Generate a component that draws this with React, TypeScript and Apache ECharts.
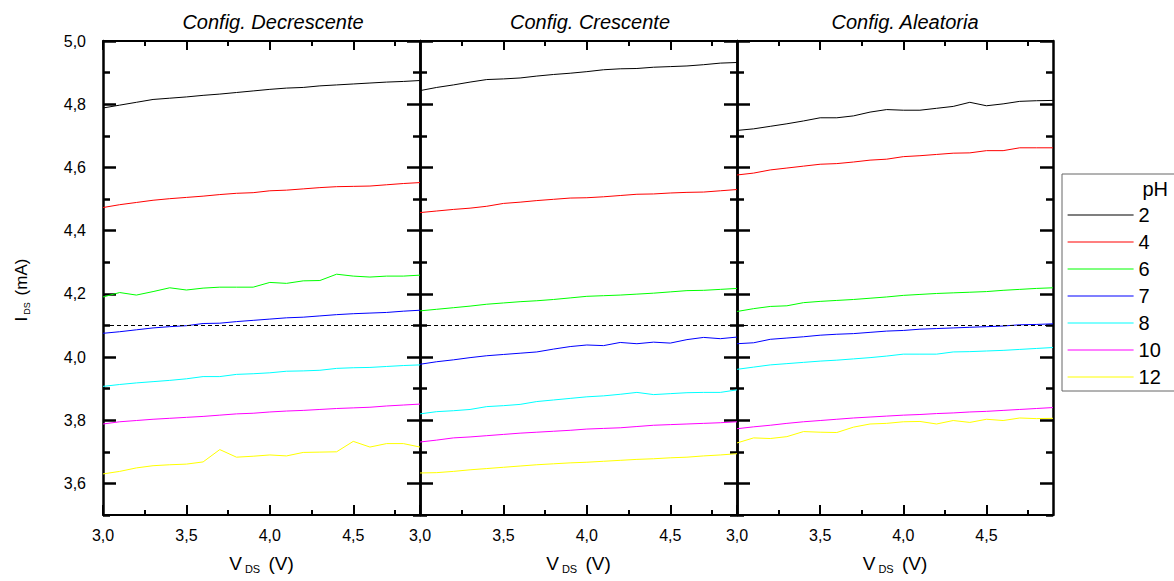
import React, { useEffect, useRef } from 'react';
import * as echarts from 'echarts';

const xValues = [3.0, 3.1, 3.2, 3.3, 3.4, 3.5, 3.6, 3.7, 3.8, 3.9, 4.0, 4.1, 4.2, 4.3, 4.4, 4.5, 4.6, 4.7, 4.8, 4.9];

const phNames = ['2', '4', '6', '7', '8', '10', '12'];
const phColors = ['#000000', '#ff0000', '#00ff00', '#0000ff', '#00ffff', '#ff00ff', '#ffff00'];
const panelTitles = ['Config. Decrescente', 'Config. Crescente', 'Config. Aleatoria'];

// Config. Decrescente
const dec2 = [4.788, 4.797, 4.806, 4.815, 4.819, 4.823, 4.828, 4.832, 4.837, 4.842, 4.847, 4.851, 4.853, 4.858, 4.861, 4.864, 4.867, 4.870, 4.872, 4.875];
const dec4 = [4.473, 4.482, 4.489, 4.496, 4.501, 4.505, 4.509, 4.514, 4.518, 4.520, 4.526, 4.528, 4.532, 4.536, 4.539, 4.540, 4.541, 4.545, 4.549, 4.552];
const dec6 = [4.190, 4.204, 4.196, 4.207, 4.219, 4.212, 4.218, 4.221, 4.221, 4.221, 4.236, 4.233, 4.241, 4.242, 4.262, 4.256, 4.253, 4.256, 4.256, 4.259];
const dec7 = [4.075, 4.080, 4.086, 4.092, 4.096, 4.099, 4.106, 4.107, 4.112, 4.116, 4.120, 4.124, 4.126, 4.130, 4.134, 4.137, 4.139, 4.141, 4.145, 4.148];
const dec8 = [3.907, 3.913, 3.918, 3.922, 3.926, 3.931, 3.938, 3.938, 3.945, 3.947, 3.950, 3.955, 3.956, 3.958, 3.964, 3.966, 3.967, 3.970, 3.973, 3.975];
const dec10 = [3.788, 3.795, 3.799, 3.803, 3.806, 3.809, 3.812, 3.816, 3.820, 3.822, 3.826, 3.829, 3.831, 3.834, 3.837, 3.839, 3.841, 3.845, 3.848, 3.851];
const dec12 = [3.630, 3.638, 3.649, 3.656, 3.659, 3.661, 3.668, 3.707, 3.683, 3.686, 3.690, 3.687, 3.698, 3.699, 3.700, 3.733, 3.715, 3.726, 3.726, 3.715];

// Config. Crescente
const cre2 = [4.843, 4.853, 4.861, 4.870, 4.878, 4.880, 4.883, 4.889, 4.894, 4.898, 4.903, 4.909, 4.912, 4.913, 4.917, 4.919, 4.921, 4.925, 4.930, 4.932];
const cre4 = [4.457, 4.462, 4.467, 4.471, 4.477, 4.486, 4.490, 4.495, 4.499, 4.503, 4.504, 4.507, 4.511, 4.515, 4.516, 4.519, 4.521, 4.522, 4.526, 4.530];
const cre6 = [4.146, 4.151, 4.156, 4.161, 4.167, 4.171, 4.175, 4.178, 4.182, 4.187, 4.192, 4.194, 4.196, 4.199, 4.202, 4.206, 4.210, 4.211, 4.214, 4.217];
const cre7 = [3.977, 3.985, 3.991, 3.998, 4.004, 4.008, 4.012, 4.016, 4.025, 4.033, 4.038, 4.036, 4.046, 4.042, 4.047, 4.044, 4.055, 4.062, 4.058, 4.063];
const cre8 = [3.820, 3.827, 3.830, 3.834, 3.843, 3.846, 3.850, 3.859, 3.864, 3.869, 3.874, 3.877, 3.882, 3.888, 3.881, 3.884, 3.887, 3.888, 3.888, 3.896];
const cre10 = [3.731, 3.737, 3.744, 3.747, 3.751, 3.755, 3.759, 3.762, 3.765, 3.768, 3.772, 3.774, 3.776, 3.780, 3.784, 3.786, 3.788, 3.790, 3.792, 3.795];
const cre12 = [3.633, 3.634, 3.638, 3.643, 3.647, 3.651, 3.655, 3.659, 3.662, 3.665, 3.667, 3.670, 3.673, 3.676, 3.678, 3.681, 3.683, 3.687, 3.690, 3.694];

// Config. Aleatoria
const ale2 = [4.717, 4.722, 4.730, 4.738, 4.747, 4.757, 4.757, 4.763, 4.775, 4.783, 4.781, 4.781, 4.787, 4.793, 4.806, 4.795, 4.801, 4.809, 4.811, 4.812];
const ale4 = [4.576, 4.582, 4.592, 4.598, 4.604, 4.610, 4.612, 4.617, 4.623, 4.626, 4.634, 4.637, 4.641, 4.645, 4.646, 4.653, 4.653, 4.662, 4.662, 4.662];
const ale6 = [4.144, 4.153, 4.160, 4.162, 4.172, 4.176, 4.179, 4.182, 4.186, 4.190, 4.195, 4.198, 4.201, 4.203, 4.205, 4.207, 4.211, 4.214, 4.217, 4.219];
const ale7 = [4.042, 4.045, 4.056, 4.060, 4.064, 4.069, 4.072, 4.074, 4.078, 4.082, 4.084, 4.088, 4.090, 4.092, 4.094, 4.096, 4.098, 4.102, 4.103, 4.105];
const ale8 = [3.961, 3.968, 3.975, 3.979, 3.983, 3.987, 3.990, 3.994, 3.998, 4.003, 4.009, 4.009, 4.009, 4.016, 4.017, 4.019, 4.021, 4.024, 4.027, 4.030];
const ale10 = [3.773, 3.779, 3.784, 3.790, 3.795, 3.799, 3.803, 3.807, 3.810, 3.813, 3.816, 3.818, 3.821, 3.823, 3.826, 3.828, 3.831, 3.834, 3.837, 3.840];
const ale12 = [3.728, 3.744, 3.742, 3.748, 3.764, 3.762, 3.761, 3.778, 3.788, 3.790, 3.795, 3.796, 3.788, 3.799, 3.793, 3.803, 3.799, 3.807, 3.805, 3.806];

const refLevel = 4.096;

const yMajorTicks = [3.6, 3.8, 4.0, 4.2, 4.4, 4.6, 4.8, 5.0];
const yMinorTicks = [3.5, 3.7, 3.9, 4.1, 4.3, 4.5, 4.7, 4.9];
const xMajorTicks = [3.0, 3.5, 4.0, 4.5];
const xMinorTicks = [3.25, 3.75, 4.25, 4.75];

const xMin = 3.0;
const xMax = 4.9;
const yMin = 3.5;
const yMax = 5.0;

const panels = [
  [dec2, dec4, dec6, dec7, dec8, dec10, dec12],
  [cre2, cre4, cre6, cre7, cre8, cre10, cre12],
  [ale2, ale4, ale6, ale7, ale8, ale10, ale12],
];

const FONT = '"Liberation Sans", Arial, sans-serif';

const fmt = (v: number) => v.toFixed(1).replace('.', ',');

export default function App() {
  const ref = useRef<HTMLDivElement>(null);

  useEffect(() => {
    if (!ref.current) return;
    const chart = echarts.init(ref.current, undefined, { renderer: 'svg' });

    const gridLefts = [103, 420, 737];
    const gridWidths = [317, 317, 316];
    const titleCenters = [273, 590, 905];

    const grids = gridLefts.map((l, i) => ({ left: l, top: 41, width: gridWidths[i], height: 474 }));

    const xAxes: any[] = [];
    const yAxes: any[] = [];
    const axisLineStyle = { show: true, onZero: false, lineStyle: { color: '#000', width: 2 } };

    for (let g = 0; g < 3; g++) {
      const base = { type: 'value', gridIndex: g, min: xMin, max: xMax, splitLine: { show: false } };
      xAxes.push({
        ...base,
        position: 'bottom',
        axisLine: axisLineStyle,
        axisTick: { show: true, inside: true, length: 10, customValues: xMajorTicks, lineStyle: { color: '#000', width: 2 } },
        axisLabel: { show: true, customValues: xMajorTicks, formatter: fmt, fontSize: 16, color: '#000', fontFamily: FONT, margin: 12 },
        name: '{v|V}{s|DS}{v| (V)}',
        nameLocation: 'middle',
        nameGap: 37,
        nameTextStyle: {
          rich: {
            v: { fontSize: 19, fontFamily: FONT, color: '#000', lineHeight: 22 },
            s: { fontSize: 11, fontFamily: FONT, color: '#000', lineHeight: 11, verticalAlign: 'bottom', padding: [0, 3, 0, 3] },
          },
        },
      });
      xAxes.push({
        ...base,
        position: 'bottom',
        axisLine: { show: false, onZero: false },
        axisTick: { show: true, inside: true, length: 5, customValues: xMinorTicks, lineStyle: { color: '#000', width: 2 } },
        axisLabel: { show: false },
      });
      xAxes.push({
        ...base,
        position: 'top',
        axisLine: axisLineStyle,
        axisTick: { show: true, inside: true, length: 9, customValues: xMajorTicks, lineStyle: { color: '#000', width: 2 } },
        axisLabel: { show: false },
      });
      xAxes.push({
        ...base,
        position: 'top',
        axisLine: { show: false, onZero: false },
        axisTick: { show: true, inside: true, length: 5, customValues: xMinorTicks, lineStyle: { color: '#000', width: 2 } },
        axisLabel: { show: false },
      });

      const ybase = { type: 'value', gridIndex: g, min: yMin, max: yMax, splitLine: { show: false } };
      const leftMajor: any = {
        ...ybase,
        position: 'left',
        axisLine: { ...axisLineStyle, lineStyle: { color: '#000', width: 2.5 } },
        axisTick: { show: true, inside: true, length: 13, customValues: yMajorTicks, lineStyle: { color: '#000', width: 2.5 } },
        axisLabel: g === 0
          ? { show: true, customValues: yMajorTicks, formatter: fmt, fontSize: 16, color: '#000', fontFamily: FONT, margin: 17 }
          : { show: false },
      };
      if (g === 0) {
        leftMajor.name = '{a|I}{s|DS}{a| (mA)}';
        leftMajor.nameLocation = 'middle';
        leftMajor.nameGap = 72;
        leftMajor.nameTextStyle = {
          padding: [0, 24, 0, 0],
          rich: {
            a: { fontSize: 17, fontFamily: FONT, color: '#000', lineHeight: 20 },
            s: { fontSize: 9, fontFamily: FONT, color: '#000', lineHeight: 9, verticalAlign: 'bottom', padding: [0, 2, 0, 2] },
          },
        };
      }
      yAxes.push(leftMajor);
      yAxes.push({
        ...ybase,
        position: 'left',
        axisLine: { show: false, onZero: false },
        axisTick: { show: true, inside: true, length: 7, customValues: yMinorTicks, lineStyle: { color: '#000', width: 2.5 } },
        axisLabel: { show: false },
      });
      yAxes.push({
        ...ybase,
        position: 'right',
        axisLine: { ...axisLineStyle, lineStyle: { color: '#000', width: 2.5 } },
        axisTick: { show: true, inside: true, length: 13, customValues: yMajorTicks, lineStyle: { color: '#000', width: 2.5 } },
        axisLabel: { show: false },
      });
      yAxes.push({
        ...ybase,
        position: 'right',
        axisLine: { show: false, onZero: false },
        axisTick: { show: true, inside: true, length: 7, customValues: yMinorTicks, lineStyle: { color: '#000', width: 2.5 } },
        axisLabel: { show: false },
      });
    }

    const series: any[] = [];
    panels.forEach((arrs, g) => {
      arrs.forEach((arr, k) => {
        series.push({
          type: 'line',
          name: phNames[k],
          xAxisIndex: g * 4,
          yAxisIndex: g * 4,
          data: xValues.map((x, i) => [x, arr[i]]),
          symbol: 'none',
          showSymbol: false,
          lineStyle: { color: phColors[k], width: 1 },
          itemStyle: { color: phColors[k] },
          z: 3,
          markLine: k === 0
            ? {
                silent: true,
                symbol: 'none',
                label: { show: false },
                lineStyle: { color: '#000', width: 1, type: [4, 3] },
                data: [{ yAxis: refLevel }],
              }
            : undefined,
        });
      });
    });

    const option: any = {
      animation: false,
      backgroundColor: '#ffffff',
      grid: grids,
      xAxis: xAxes,
      yAxis: yAxes,
      series,
      legend: {
        orient: 'vertical',
        left: 1062,
        top: 174,
        data: phNames,
        itemWidth: 66,
        itemHeight: 14,
        itemGap: 7,
        padding: [31, 40, 4, 5],
        borderColor: '#666',
        borderWidth: 1,
        selectedMode: false,
        itemStyle: { opacity: 0, borderWidth: 0 },
        lineStyle: { width: 1.2 },
        textStyle: { fontSize: 20, color: '#000', fontFamily: FONT },
      },
      graphic: [
        ...panelTitles.map((t, i) => ({
          type: 'text',
          x: titleCenters[i],
          y: 22,
          style: {
            text: t,
            fill: '#000',
            fontSize: 20,
            fontStyle: 'italic',
            fontFamily: FONT,
            align: 'center',
            verticalAlign: 'middle',
          },
        })),
        {
          type: 'text',
          x: 1168,
          y: 189,
          style: { text: 'pH', fill: '#000', fontSize: 20, fontFamily: FONT, align: 'right', verticalAlign: 'middle' },
        },
      ],
    };

    chart.setOption(option);
    return () => chart.dispose();
  }, []);

  return <div ref={ref} style={{ position: 'fixed', left: 0, top: 0, width: 1174, height: 581, background: '#fff' }} />;
}
